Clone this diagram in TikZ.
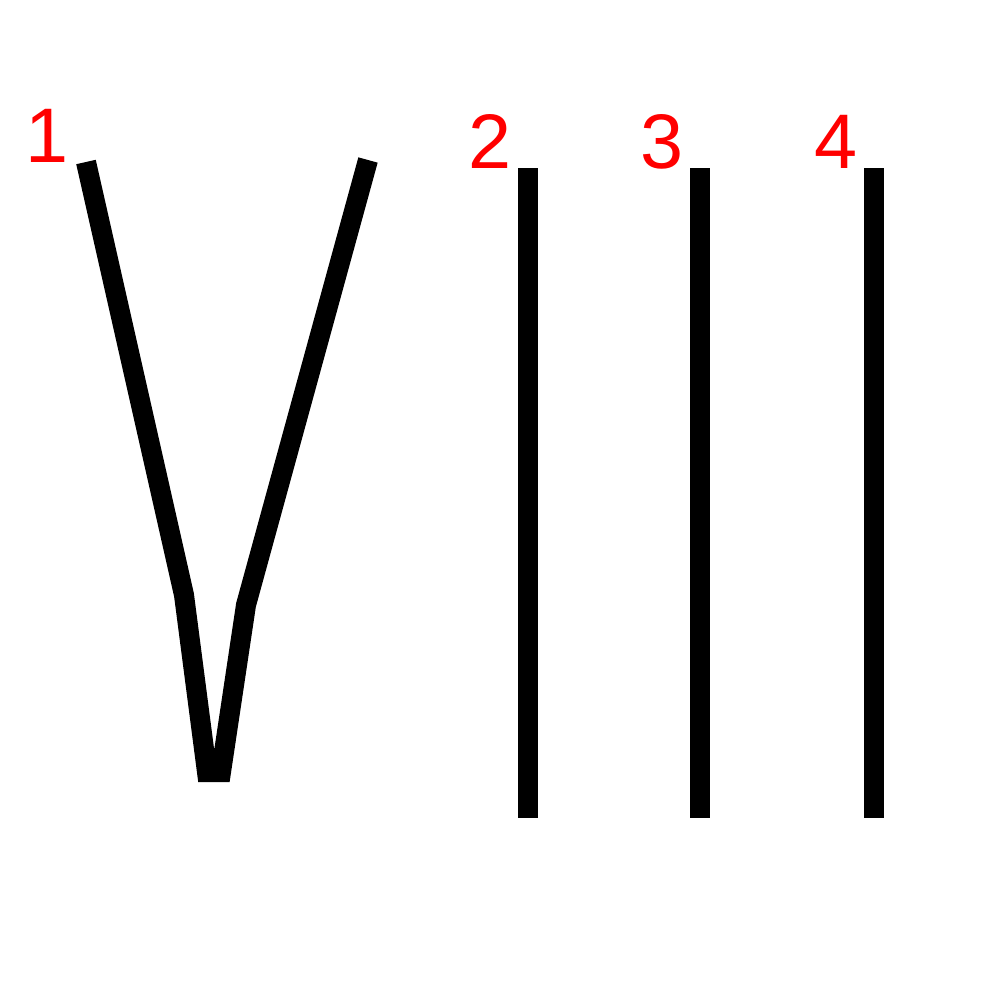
\documentclass[tikz,border=0pt]{standalone}
\usepackage{fontspec}
\setmainfont{Liberation Sans}
\begin{document}
\begin{tikzpicture}[x=0.01cm, y=-0.01cm, stroke/.style={line width=0.2cm, black}, num/.style={anchor=base, inner sep=0pt, text=red, font=\fontsize{22pt}{22pt}\selectfont}]
	\useasboundingbox (0,0) rectangle (1000,1000);
	% numbers
	\node[num] (n1) at (47,162) {1};
	\node[num] (n2) at (490,168) {2};
	\node[num] (n3) at (662,168) {3};
	\node[num] (n4) at (836,168) {4};
	% strokes
	\draw[stroke] (86,162) -- (184,595) -- (207,772) -- (221,772) -- (246,605) -- (368,160);
	\draw[stroke] (528,168) -- (528,818);
	\draw[stroke] (700,168) -- (700,818);
	\draw[stroke] (874,168) -- (874,818);
\end{tikzpicture}
\end{document}
